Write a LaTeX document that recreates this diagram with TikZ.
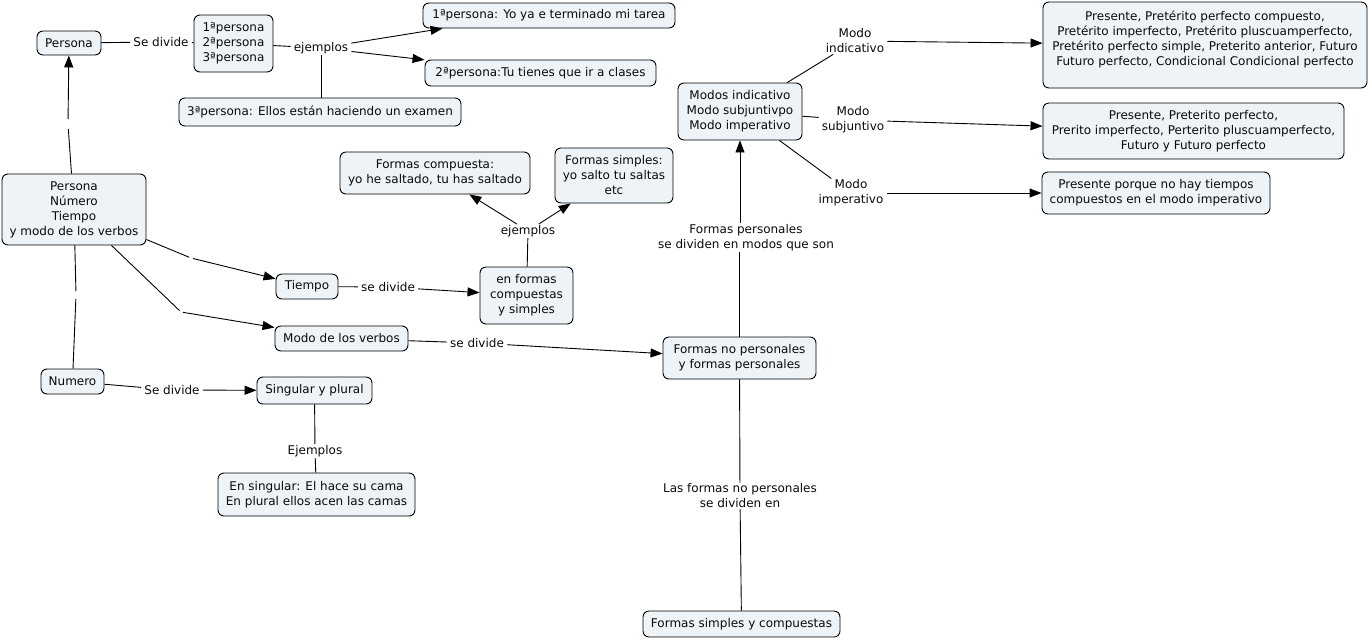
\documentclass[tikz,border=0pt]{standalone}
\usepackage{fontspec}
\setmainfont{DejaVu Sans}
\usetikzlibrary{arrows.meta}
\definecolor{boxfill}{RGB}{237,243,246}
\definecolor{ink}{RGB}{10,10,10}
\begin{document}
\begin{tikzpicture}[x=1pt,y=-1pt,
  txt/.style={font=\fontsize{12}{15}\selectfont, text=ink},
  box/.style={txt, draw=black, fill=boxfill, rounded corners=6pt, align=center,
    inner xsep=4pt, inner ysep=3pt, line width=0.9pt},
  lbl/.style={txt, align=center, inner xsep=3pt, inner ysep=1pt},
  con/.style={line width=0.9pt, draw=black},
  arr/.style={con, -{Triangle[length=12pt,width=9pt]}}]
\useasboundingbox (0,0) rectangle (1371,641);

% boxes
\node[box, minimum width=64, minimum height=24] (persona) at (69,43) {Persona};
\node[box, minimum width=79, minimum height=57] (p123) at (233.5,43.5) {1ªpersona\\2ªpersona\\3ªpersona};
\node[box, minimum width=252, minimum height=25] (p1) at (549,15.5) {1ªpersona: Yo ya e terminado mi tarea};
\node[box, minimum width=231, minimum height=26] (p2) at (540.5,73) {2ªpersona:Tu tienes que ir a clases};
\node[box, minimum width=282, minimum height=28] (p3) at (320,112) {3ªpersona: Ellos están haciendo un examen};
\node[box, minimum width=144, minimum height=71] (big) at (74,209.5) {Persona\\Número\\Tiempo\\y modo de los verbos};
\node[box, minimum width=62, minimum height=25] (tiempo) at (307,286.5) {Tiempo};
\node[box, minimum width=93, minimum height=57] (formas) at (526.5,295.5) {en formas\\compuestas\\y simples};
\node[box, minimum width=190, minimum height=42] (fcomp) at (435,173) {Formas compuesta:\\yo he saltado, tu has saltado};
\node[box, minimum width=118, minimum height=55] (fsimp) at (614,175.5) {Formas simples:\\yo salto tu saltas\\etc};
\node[box, minimum width=133, minimum height=25] (modo) at (341.5,338.5) {Modo de los verbos};
\node[box, minimum width=153, minimum height=42] (fnp) at (739.5,358) {Formas no personales\\ y formas personales};
\node[box, minimum width=124, minimum height=57] (modos) at (740,111.5) {Modos indicativo\\Modo subjuntivpo\\Modo imperativo};
\node[box, inner ysep=6pt, minimum width=322, minimum height=86] (r1) at (1205,45)
  {\parbox[c][74pt][t]{316pt}{\centering\vspace*{3pt}Presente, Pretérito perfecto compuesto,\\Pretérito imperfecto, Pretérito pluscuamperfecto,\\Pretérito perfecto simple, Preterito anterior, Futuro\\Futuro perfecto, Condicional Condicional perfecto}};
\node[box, minimum width=301, minimum height=56] (r2) at (1193.5,131) {Presente, Preterito perfecto,\\Prerito imperfecto, Perterito pluscuamperfecto,\\Futuro y Futuro perfecto};
\node[box, minimum width=228, minimum height=42] (r3) at (1156,193) {Presente porque no hay tiempos\\compuestos en el modo imperativo};
\node[box, minimum width=197, minimum height=26] (fsc) at (741.5,624) {Formas simples y compuestas};
\node[box, minimum width=63, minimum height=25] (numero) at (72.5,381.5) {Numero};
\node[box, minimum width=115, minimum height=27] (sing) at (314.5,390.5) {Singular y plural};
\node[box, minimum width=197, minimum height=43] (ensing) at (316.5,494.5) {En singular: El hace su cama\\En plural ellos acen las camas};

% linking phrases
\node[lbl] (lsd1) at (161,42) {Se divide};
\node[lbl] (lej1) at (321,48) {ejemplos};
\node[lbl] (lsd2) at (388,287) {se divide};
\node[lbl] (lej2) at (528,231) {ejemplos};
\node[lbl] (lsd3) at (477,343) {se divide};
\node[lbl] (lfp) at (746,237.5) {Formas personales\\se dividen en modos que son};
\node[lbl] (lmi) at (855,41) {Modo\\indicativo};
\node[lbl] (lms) at (853,120) {Modo\\subjuntivo};
\node[lbl] (lmim) at (851,193) {Modo\\imperativo};
\node[lbl] (lfnp) at (740,496) {Las formas no personales\\se dividen en};
\node[lbl] (lsd4) at (172,390) {Se divide};
\node[lbl] (lejE) at (315,451) {Ejemplos};

% empty linking points
\coordinate (e1) at (68,124);
\coordinate (e2) at (191,258);
\coordinate (e3) at (181,312);
\coordinate (e4) at (76,295);

% connectors
\draw[con] (persona) -- (lsd1);
\draw[con] (lsd1) -- (p123);
\draw[con] (p123) -- (lej1);
\draw[arr] (lej1) -- ([xshift=20pt]p1.south west);
\draw[arr] (lej1) -- (p2);
\draw[con] (lej1) -- (lej1 |- p3.north);

\draw[con, shorten >=5pt] (big) -- (e1);
\draw[arr, shorten <=5pt] (e1) -- (persona);
\draw[con, shorten >=2pt] (big) -- (e2);
\draw[arr, shorten <=2pt] (e2) -- (tiempo);
\draw[con, shorten >=2pt] (big) -- (e3);
\draw[arr, shorten <=2pt] (e3) -- (modo);
\draw[con, shorten >=4pt] (big) -- (e4);
\draw[con, shorten <=4pt] (e4) -- (numero);

\draw[con] (tiempo) -- (lsd2);
\draw[arr] (lsd2) -- (formas);
\draw[con] (formas) -- (lej2);
\draw[arr] (lej2) -- (fcomp);
\draw[arr] (lej2) -- (fsimp);

\draw[con] (modo) -- (lsd3);
\draw[arr] (lsd3) -- (fnp);
\draw[con] (fnp.north) -- (fnp.north |- lfp.south);
\draw[arr] (modos.south |- lfp.north) -- (modos.south);
\draw[con] (fnp) -- (lfnp);
\draw[con] (lfnp) -- (fsc);

\draw[con] (modos) -- (lmi);
\draw[arr] (lmi) -- (r1);
\draw[con] (modos) -- (lms);
\draw[arr] (lms) -- (r2);
\draw[con] (modos) -- (lmim);
\draw[arr] (lmim) -- (r3);

\draw[con] (numero) -- (lsd4);
\draw[arr] (lsd4) -- (sing);
\draw[con] (sing) -- (lejE);
\draw[con] (lejE) -- (ensing);
\end{tikzpicture}
\end{document}
